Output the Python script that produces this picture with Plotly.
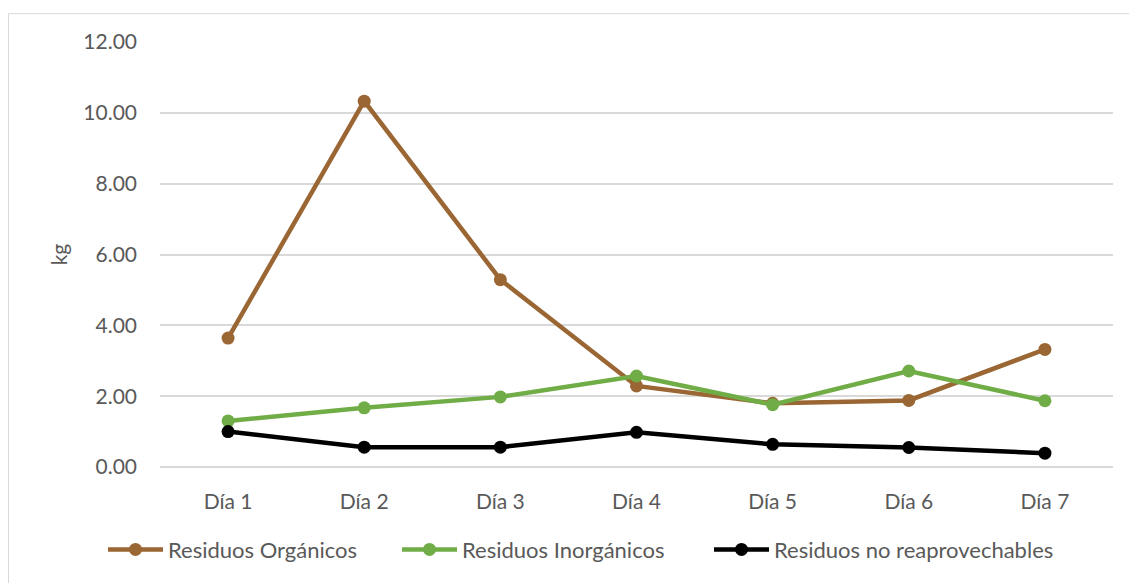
import plotly.graph_objects as go

# Daily waste weights (kg) over one week
dias = ["Día 1", "Día 2", "Día 3", "Día 4", "Día 5", "Día 6", "Día 7"]
organicos = [3.64, 10.33, 5.29, 2.29, 1.80, 1.88, 3.32]
inorganicos = [1.30, 1.67, 1.98, 2.57, 1.76, 2.71, 1.87]
no_reaprovechables = [1.00, 0.56, 0.56, 0.98, 0.64, 0.55, 0.39]

y_ticks = [0, 2, 4, 6, 8, 10, 12]
y_tick_text = [f"{v:.2f}" for v in y_ticks]

series = [
    ("Residuos Orgánicos", organicos, "#9A6633", "legend"),
    ("Residuos Inorgánicos", inorganicos, "#70AD47", "legend2"),
    ("Residuos no reaprovechables", no_reaprovechables, "#000000", "legend3"),
]

FONT = "Lato"
TEXT_COLOR = "#595959"

fig = go.Figure()
for name, vals, color, leg in series:
    fig.add_trace(go.Scatter(
        x=dias, y=vals, name=name, mode="lines+markers",
        line=dict(color=color, width=4.5),
        marker=dict(color=color, size=13),
        legend=leg,
    ))

W, H = 1129, 583
L, R, T, B = 160, 16, 42, 114
pw, ph = W - L - R, H - T - B


def legend_at(px_left):
    return dict(
        orientation="h",
        x=(px_left - 5 - L) / pw, xanchor="left",
        y=(T + ph - 552) / ph, yanchor="middle",
        itemwidth=55,
        font=dict(family=FONT, size=22, color=TEXT_COLOR),
        bgcolor="rgba(0,0,0,0)",
    )


fig.update_layout(
    width=W, height=H,
    margin=dict(l=L, r=R, t=T, b=B),
    paper_bgcolor="white", plot_bgcolor="white",
    font=dict(family=FONT, size=21, color=TEXT_COLOR),
    showlegend=True,
    legend=legend_at(108),
    legend2=legend_at(402),
    legend3=legend_at(714),
    xaxis=dict(
        type="category", range=[-0.5, len(dias) - 0.5],
        showgrid=False, zeroline=False, showline=False,
        ticks="", ticklabelstandoff=20,
        tickfont=dict(family=FONT, size=21, color=TEXT_COLOR),
    ),
    yaxis=dict(
        range=[0, 12],
        tickvals=y_ticks, ticktext=y_tick_text,
        showgrid=True, gridcolor="#D9D9D9", gridwidth=1.5,
        zeroline=True, zerolinecolor="#D9D9D9", zerolinewidth=1.5,
        showline=False, ticks="", ticklabelstandoff=22,
        tickfont=dict(family=FONT, size=21, color=TEXT_COLOR),
        title=dict(text="kg", standoff=9,
                   font=dict(family=FONT, size=21, color=TEXT_COLOR)),
    ),
    shapes=[dict(
        type="rect", xref="paper", yref="paper",
        x0=(8.5 - L) / pw, x1=(W + 10 - L) / pw,
        y0=(T + ph - (H + 10)) / ph, y1=(T + ph - 13.5) / ph,
        line=dict(color="#D9D9D9", width=1), fillcolor="rgba(0,0,0,0)",
        layer="below",
    )],
)

fig.write_html("out.html")
